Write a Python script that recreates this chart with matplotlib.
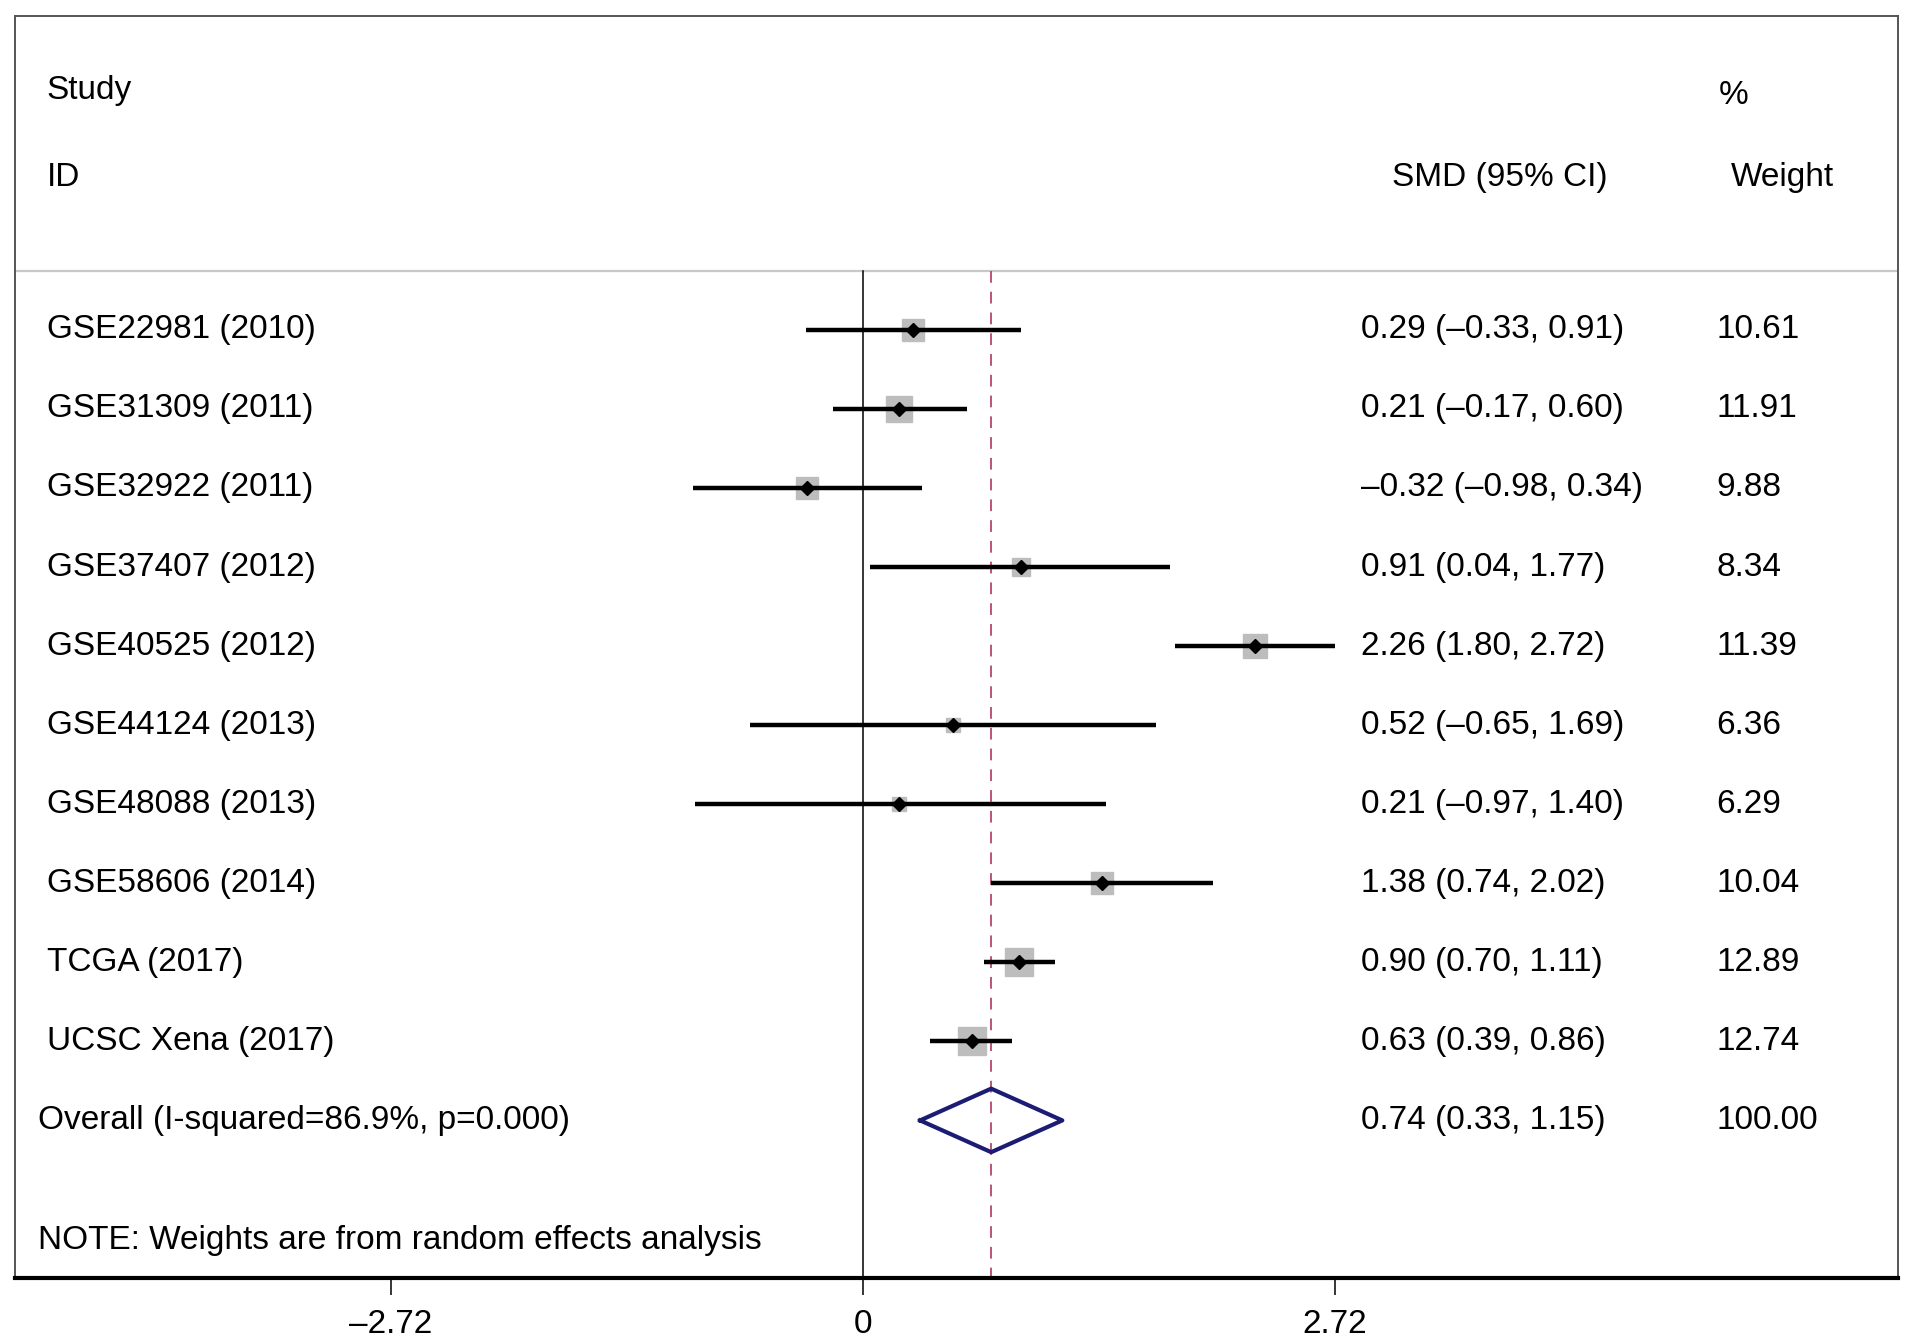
"""
Forest plot: SMD (95% CI) of 10 studies, random effects
"""
import matplotlib
matplotlib.use('Agg')
import matplotlib.pyplot as plt
from matplotlib.transforms import blended_transform_factory

plt.rcParams['font.family'] = ['Liberation Sans', 'DejaVu Sans']

# 数据
studies = ['GSE22981 (2010)', 'GSE31309 (2011)', 'GSE32922 (2011)', 'GSE37407 (2012)',
           'GSE40525 (2012)', 'GSE44124 (2013)', 'GSE48088 (2013)', 'GSE58606 (2014)',
           'TCGA (2017)', 'UCSC Xena (2017)']
smd = [0.29, 0.21, -0.32, 0.91, 2.26, 0.52, 0.21, 1.38, 0.90, 0.63]
lower = [-0.33, -0.17, -0.98, 0.04, 1.80, -0.65, -0.97, 0.74, 0.70, 0.39]
upper = [0.91, 0.60, 0.34, 1.77, 2.72, 1.69, 1.40, 2.02, 1.11, 0.86]
weights = [10.61, 11.91, 9.88, 8.34, 11.39, 6.36, 6.29, 10.04, 12.89, 12.74]
overall_label = 'Overall (I-squared=86.9%, p=0.000)'
overall = [0.74, 0.33, 1.15]
x_ticks = [-2.72, 0, 2.72]
x_ticklabels = ['\u20132.72', '0', '2.72']


def fmt(v):
    s = '%.2f' % abs(v)
    return ('\u2013' + s) if v < 0 else s


fig = plt.figure(figsize=(19.13, 13.44), dpi=100)
ax = fig.add_axes([12 / 1565, 1 - 1046 / 1100, 1541 / 1565, 1033 / 1100])

# 行坐标 (行单位, 向下递增)
row_h = 64.7
y_top = (13 - 270) / row_h
y_bot = (1046 - 270) / row_h
ax.set_xlim(-4.89, 5.97)
ax.set_ylim(y_bot, y_top)
sep_y = (222 - 270) / row_h

tr = blended_transform_factory(ax.transAxes, ax.transData)
fs = 24

# 表头
ax.text(0.0169, (74 - 270) / row_h, 'Study', transform=tr, fontsize=fs, va='center')
ax.text(0.0169, (145 - 270) / row_h, 'ID', transform=tr, fontsize=fs, va='center')
ax.text(0.731, (145 - 270) / row_h, 'SMD (95% CI)', transform=tr, fontsize=fs, va='center')
ax.text(0.9046, (78 - 270) / row_h, '%', transform=tr, fontsize=fs, va='center')
ax.text(0.911, (145 - 270) / row_h, 'Weight', transform=tr, fontsize=fs, va='center')
ax.axhline(sep_y, color='#c8c8c8', lw=1.6)

# 参考线
ax.plot([0, 0], [sep_y, y_bot], color='black', lw=1.1)
ax.plot([overall[0], overall[0]], [sep_y, y_bot], color='#b5476a', lw=1.3,
        linestyle=(0, (6.5, 5)))

# 各研究
for i in range(len(studies)):
    ax.plot([lower[i], upper[i]], [i, i], color='black', lw=3.2, solid_capstyle='butt', zorder=3)
    side = 16.5 * weights[i] / 10.61
    ax.plot(smd[i], i, marker='s', ms=side, color='#bdbdbd', mec='#bdbdbd', zorder=2)
    ax.plot(smd[i], i, marker='D', ms=7.5, color='black', zorder=4)
    ax.text(0.0169, i, studies[i], transform=tr, fontsize=fs, va='center')
    ax.text(0.7145, i, '%s (%s, %s)' % (fmt(smd[i]), fmt(lower[i]), fmt(upper[i])),
            transform=tr, fontsize=fs, va='center')
    ax.text(0.9033, i, '%.2f' % weights[i], transform=tr, fontsize=fs, va='center')

# 合并效应
k = len(studies)
dh = 26 / row_h
ax.plot([overall[1], overall[0], overall[2], overall[0], overall[1]],
        [k, k - dh, k, k + dh, k], color='#1c1c74', lw=3.0, zorder=5)
ax.text(0.0123, k, overall_label, transform=tr, fontsize=fs, va='center')
ax.text(0.7145, k, '%s (%s, %s)' % (fmt(overall[0]), fmt(overall[1]), fmt(overall[2])),
        transform=tr, fontsize=fs, va='center')
ax.text(0.9033, k, '%.2f' % 100, transform=tr, fontsize=fs, va='center')

ax.text(0.0123, (1015 - 270) / row_h, 'NOTE: Weights are from random effects analysis',
        transform=tr, fontsize=fs, va='center')

# 坐标轴
ax.set_yticks([])
ax.set_xticks(x_ticks)
ax.set_xticklabels(x_ticklabels, fontsize=fs)
ax.tick_params(axis='x', direction='out', length=12, width=1.1, pad=10)
for s in ['top', 'left', 'right']:
    ax.spines[s].set_color('#555555')
    ax.spines[s].set_linewidth(1.4)
ax.spines['bottom'].set_linewidth(3)
ax.spines['bottom'].set_color('black')

fig.savefig('out.png', dpi=100)
